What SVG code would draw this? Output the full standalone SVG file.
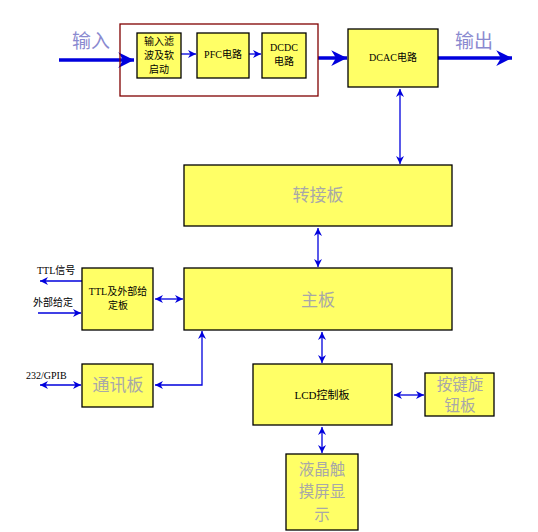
<svg xmlns="http://www.w3.org/2000/svg" width="538" height="532" viewBox="0 0 538 532">
<defs>
<marker id="ah" viewBox="0 0 10 10" refX="10" refY="5" markerWidth="9" markerHeight="8" markerUnits="userSpaceOnUse" orient="auto-start-reverse">
<path d="M0,0 L10,5 L0,10 L3,5 Z" fill="#0000dd"/>
</marker>
<marker id="ahb" viewBox="0 0 10 10" refX="10" refY="5" markerWidth="5" markerHeight="4.5" orient="auto-start-reverse">
<path d="M0,0 L10,5 L0,10 L3,5 Z" fill="#0000dd"/>
</marker>
<style>
.box{fill:#ffff66;stroke:#000;stroke-width:1.3}
.ln{stroke:#0000dd;stroke-width:1.3;fill:none}
.thk{stroke:#0000dd;stroke-width:3.5;fill:none}
.sm{font-family:"Liberation Serif","Noto Sans CJK SC",serif;font-size:10px;fill:#000;text-anchor:middle}
.smL{font-family:"Liberation Serif","Noto Sans CJK SC",serif;font-size:10px;fill:#000}
.big{font-family:"Noto Sans CJK SC",serif;font-size:17px;fill:#a8a8a8;text-anchor:middle}
.mid{font-family:"Noto Sans CJK SC",serif;font-size:15.5px;fill:#a8a8a8;text-anchor:middle}
.io{font-family:"Noto Sans CJK SC",serif;font-size:19px;fill:#8a8ad0}
</style>
</defs>
<rect width="538" height="532" fill="#fff"/>
<g id="connectors">
<line class="thk" x1="59" y1="60" x2="134" y2="60" marker-end="url(#ahb)"/>
<line class="ln" x1="181" y1="54" x2="196" y2="54" marker-end="url(#ah)"/>
<line class="ln" x1="249" y1="54" x2="261" y2="54" marker-end="url(#ah)"/>
<line class="thk" x1="318" y1="58" x2="347" y2="58" marker-end="url(#ahb)"/>
<line class="thk" x1="438" y1="58" x2="512" y2="58" marker-end="url(#ahb)"/>
<line class="ln" x1="400" y1="89" x2="400" y2="164" marker-start="url(#ah)" marker-end="url(#ah)"/>
<line class="ln" x1="318" y1="228" x2="318" y2="267" marker-start="url(#ah)" marker-end="url(#ah)"/>
<line class="ln" x1="155" y1="299" x2="183" y2="299" marker-start="url(#ah)" marker-end="url(#ah)"/>
<line class="ln" x1="82" y1="281" x2="40" y2="281" marker-end="url(#ah)"/>
<line class="ln" x1="38" y1="313" x2="81" y2="313" marker-end="url(#ah)"/>
<polyline class="ln" points="155,385 202,385 202,331" marker-start="url(#ah)" marker-end="url(#ah)"/>
<line class="ln" x1="40" y1="385" x2="81" y2="385" marker-start="url(#ah)" marker-end="url(#ah)"/>
<line class="ln" x1="322" y1="332" x2="322" y2="363" marker-start="url(#ah)" marker-end="url(#ah)"/>
<line class="ln" x1="394" y1="395" x2="424" y2="395" marker-start="url(#ah)" marker-end="url(#ah)"/>
<line class="ln" x1="322" y1="427" x2="322" y2="453" marker-start="url(#ah)" marker-end="url(#ah)"/>
</g>
<g id="labels">
<text class="io" x="72" y="48">输入</text>
<text class="io" x="455" y="48">输出</text>
<text class="smL" x="37" y="274">TTL信号</text>
<text class="smL" x="33" y="306">外部给定</text>
<text class="smL" x="26" y="379">232/GPIB</text>
</g>
<g id="power-stage">
<rect x="120" y="24" width="198" height="72" fill="none" stroke="#800000" stroke-width="1.3"/>
</g>
<g id="filter">
<rect class="box" x="137" y="33" width="44" height="45"/>
<text class="sm" x="159" y="45">输入滤</text>
<text class="sm" x="159" y="59">波及软</text>
<text class="sm" x="159" y="73">启动</text>
</g>
<g id="pfc">
<rect class="box" x="197" y="33" width="52" height="45"/>
<text class="sm" x="223" y="58">PFC电路</text>
</g>
<g id="dcdc">
<rect class="box" x="262" y="33" width="44" height="45"/>
<text class="sm" x="284" y="51">DCDC</text>
<text class="sm" x="284" y="65">电路</text>
</g>
<g id="dcac">
<rect class="box" x="348" y="29" width="90" height="58"/>
<text class="sm" x="393" y="61">DCAC电路</text>
</g>
<g id="adapter">
<rect class="box" x="184" y="165" width="268" height="61"/>
<text class="big" x="318" y="201">转接板</text>
</g>
<g id="mainboard">
<rect class="box" x="184" y="268" width="268" height="62"/>
<text class="big" x="318" y="306">主板</text>
</g>
<g id="ttl">
<rect class="box" x="82" y="268" width="71" height="62"/>
<text class="sm" x="118" y="295">TTL及外部给</text>
<text class="sm" x="118" y="309">定板</text>
</g>
<g id="comm">
<rect class="box" x="82" y="364" width="71" height="43"/>
<text class="big" x="118" y="391">通讯板</text>
</g>
<g id="lcd">
<rect class="box" x="253" y="364" width="139" height="61"/>
<text class="sm" x="322" y="399" style="font-size:11px">LCD控制板</text>
</g>
<g id="keys">
<rect class="box" x="425" y="373" width="69" height="43"/>
<text class="mid" x="460" y="390">按键旋</text>
<text class="mid" x="460" y="411">钮板</text>
</g>
<g id="touch">
<rect class="box" x="286" y="454" width="72" height="76"/>
<text class="mid" x="322" y="475">液晶触</text>
<text class="mid" x="322" y="497">摸屏显</text>
<text class="mid" x="322" y="520">示</text>
</g>
</svg>
